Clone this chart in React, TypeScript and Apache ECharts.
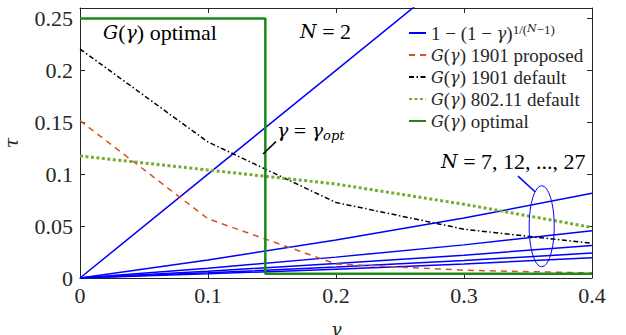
import React, { useEffect, useRef } from "react";
import * as echarts from "echarts";

// gamma sample points (x)
const gammaGrid = [0, 0.1, 0.2, 0.3, 0.4];
// 1 - (1 - gamma)^(1/(N-1))
const tauN2 = [0, 0.1, 0.2, 0.3, 0.4];
const tauN7 = [0, 0.0174, 0.0365, 0.0577, 0.0816];
const tauN12 = [0, 0.0095, 0.0201, 0.0319, 0.0454];
const tauN17 = [0, 0.0066, 0.0139, 0.022, 0.0314];
const tauN22 = [0, 0.005, 0.0106, 0.0168, 0.024];
const tauN27 = [0, 0.004, 0.0085, 0.0136, 0.0195];
// G(gamma) curves
const proposed1901 = [0.1515, 0.057, 0.0135, 0.0075, 0.0048];
const default1901 = [0.2205, 0.131, 0.0727, 0.047, 0.0335];
const default80211 = [0.1175, 0.104, 0.0905, 0.071, 0.0487];
// G(gamma) optimal step
const gammaOpt = 0.1448;
const optimalHigh = 0.25;
const optimalLow = 0.004;
const gammaMax = 0.4;
// annotation anchors (data coords)
const optArrowFrom = [0.1531, 0.1313];
const optArrowTo = [0.143, 0.1194];
const nArrowFrom = [0.3422, 0.0981];
const nArrowTo = [0.3555, 0.083];
const ellipseCenter = [0.3607, 0.0498];
const ellipseRadii = [0.0098, 0.039];

const SERIF = "Liberation Serif";
const ITALIC = "DejaVu Serif";
const AX = "#262626";
const CLEAR = "rgba(0,0,0,0)";

const LEG_BLUE = "1 − (1 − γ)^{1/(N−1)}";
const LEG_P = "G(γ) 1901 proposed";
const LEG_D = "G(γ) 1901 default";
const LEG_W = "G(γ) 802.11 default";
const LEG_O = "G(γ) optimal";

const legendRich: Record<string, string> = {
  [LEG_BLUE]: "{n|1 − (1 − }{i|γ}{n|)}{sup|1/(}{supi|N}{sup|−1)}",
  [LEG_P]: "{i|G}{n|(}{i|γ}{n|) 1901 proposed}",
  [LEG_D]: "{i|G}{n|(}{i|γ}{n|) 1901 default}",
  [LEG_W]: "{i|G}{n|(}{i|γ}{n|) 802.11 default}",
  [LEG_O]: "{i|G}{n|(}{i|γ}{n|) optimal}",
};

const pairs = (ys: number[]) => gammaGrid.map((g, i) => [g, ys[i]]);

export default function App() {
  const ref = useRef<HTMLDivElement>(null);
  useEffect(() => {
    document.body.style.margin = "0";
    const chart = echarts.init(ref.current!, null, { renderer: "svg" });
    const blue = (data: number[]) => ({
      type: "line",
      name: LEG_BLUE,
      data: pairs(data),
      symbol: "none",
      lineStyle: { color: "#0000ff", width: 1.5 },
      itemStyle: { color: CLEAR },
      z: 2,
    });
    const textRich = (size: number) => ({
      n: { fontFamily: SERIF, fontSize: size, color: AX, lineHeight: size + 2 },
      i: { fontFamily: ITALIC, fontSize: size - 3, fontStyle: "italic", color: AX, lineHeight: size + 2 },
      sub: { fontFamily: ITALIC, fontSize: Math.round(size * 0.6), fontStyle: "italic", color: AX, lineHeight: Math.round(size * 0.6), verticalAlign: "bottom" },
    });
    const option: any = {
      animation: false,
      grid: { left: 80, right: 34, top: 8, bottom: 57, show: false, containLabel: false, outerBoundsMode: "none" },
      xAxis: [
        {
          type: "value", min: 0, max: gammaMax, interval: 0.1,
          name: "γ", nameLocation: "middle", nameGap: 42,
          nameTextStyle: { fontFamily: ITALIC, fontSize: 18, fontStyle: "italic", color: AX, lineHeight: 18 },
          axisLine: { lineStyle: { color: AX, width: 1 } },
          axisTick: { inside: true, length: 5, lineStyle: { color: AX } },
          axisLabel: { fontFamily: SERIF, fontSize: 22, color: AX, margin: 6 },
          splitLine: { show: false },
        },
        {
          type: "value", min: 0, max: gammaMax, interval: 0.1, position: "top",
          axisLine: { onZero: false, lineStyle: { color: AX, width: 1 } },
          axisTick: { inside: true, length: 5, lineStyle: { color: AX } },
          axisLabel: { show: false }, splitLine: { show: false },
        },
      ],
      yAxis: [
        {
          type: "value", min: 0, max: 0.26, interval: 0.05,
          name: "τ", nameLocation: "middle", nameGap: 60, nameRotate: 90,
          nameTextStyle: { fontFamily: ITALIC, fontSize: 19, fontStyle: "italic", color: AX },
          axisLine: { show: true, lineStyle: { color: AX, width: 1 } },
          axisTick: { show: true, inside: true, length: 5, lineStyle: { color: AX } },
          axisLabel: { fontFamily: SERIF, fontSize: 22, color: AX, margin: 7, showMaxLabel: false },
          splitLine: { show: false },
        },
        {
          type: "value", min: 0, max: 0.26, interval: 0.05, position: "right",
          axisLine: { show: true, onZero: false, lineStyle: { color: AX, width: 1 } },
          axisTick: { show: true, inside: true, length: 5, lineStyle: { color: AX } },
          axisLabel: { show: false }, splitLine: { show: false },
        },
      ],
      legend: {
        data: [LEG_BLUE, LEG_P, LEG_D, LEG_W, LEG_O],
        orient: "vertical",
        left: 403,
        top: 18,
        itemWidth: 17,
        itemHeight: 10,
        itemGap: 3,
        selectedMode: false,
        itemStyle: { color: CLEAR, borderWidth: 0, opacity: 0 },
        formatter: (name: string) => legendRich[name] || name,
        textStyle: {
          fontFamily: SERIF, fontSize: 19, color: AX,
          rich: {
            n: { fontFamily: SERIF, fontSize: 19, color: AX, lineHeight: 20 },
            i: { fontFamily: ITALIC, fontSize: 16, fontStyle: "italic", color: AX, lineHeight: 20 },
            sup: { fontFamily: SERIF, fontSize: 13, color: AX, lineHeight: 12, verticalAlign: "top" },
            supi: { fontFamily: ITALIC, fontSize: 11, fontStyle: "italic", color: AX, lineHeight: 12, verticalAlign: "top" },
          },
        },
      },
      series: [
        blue(tauN2), blue(tauN7), blue(tauN12), blue(tauN17), blue(tauN22), blue(tauN27),
        {
          type: "line", name: LEG_P, data: pairs(proposed1901), symbol: "none",
          lineStyle: { color: "#d95319", width: 1.5, type: [6, 5] },
          itemStyle: { color: CLEAR }, z: 3,
        },
        {
          type: "line", name: LEG_D, data: pairs(default1901), symbol: "none",
          lineStyle: { color: "#000000", width: 1.5, type: [5, 2.5, 1.5, 2.5] },
          itemStyle: { color: CLEAR }, z: 3,
        },
        {
          type: "line", name: LEG_W, data: pairs(default80211), symbol: "none",
          lineStyle: { color: "#77ac30", width: 3, type: [3, 2.5] },
          itemStyle: { color: CLEAR }, z: 3,
        },
        {
          type: "line", name: LEG_O, symbol: "none",
          data: [[0, optimalHigh], [gammaOpt, optimalHigh], [gammaOpt, optimalLow], [gammaMax, optimalLow]],
          lineStyle: { color: "#178a17", width: 2.5 },
          itemStyle: { color: CLEAR }, z: 4,
        },
        {
          type: "line", name: "annotations", data: [], symbol: "none",
          markLine: {
            silent: true, animation: false,
            symbol: ["none", "arrow"], symbolSize: [0, 10],
            label: { show: false },
            emphasis: { disabled: true },
            data: [
              [
                { coord: optArrowFrom, lineStyle: { color: "#000", width: 1.5, type: "solid" }, itemStyle: { color: "#000" } },
                { coord: optArrowTo },
              ],
              [
                { coord: nArrowFrom, lineStyle: { color: "#0000ff", width: 1.5, type: "solid" }, itemStyle: { color: "#0000ff" } },
                { coord: nArrowTo },
              ],
            ],
          },
        },
      ],
    };
    chart.setOption(option);
    const c = chart.convertToPixel({ gridIndex: 0 }, ellipseCenter) as number[];
    const e = chart.convertToPixel({ gridIndex: 0 }, [ellipseCenter[0] + ellipseRadii[0], ellipseCenter[1] + ellipseRadii[1]]) as number[];
    chart.setOption({
      graphic: [
        {
          type: "ellipse", shape: { cx: c[0], cy: c[1], rx: Math.abs(e[0] - c[0]), ry: Math.abs(e[1] - c[1]) },
          style: { fill: "none", stroke: "#0000ff", lineWidth: 1 }, z: 10, silent: true,
        },
        {
          type: "text", left: 103, top: 21, z: 10, silent: true,
          style: { text: "{i|G}{n|(}{i|γ}{n|) optimal}", rich: textRich(22) },
        },
        {
          type: "text", left: 300, top: 20, z: 10, silent: true,
          style: { text: "{i|N}{n| = 2}", rich: textRich(22) },
        },
        {
          type: "text", left: 277, top: 119, z: 10, silent: true,
          style: { text: "{i|γ}{n| = }{i|γ}{sub|opt}", rich: textRich(22) },
        },
        {
          type: "text", left: 441, top: 150, z: 10, silent: true,
          style: { text: "{i|N}{n| = 7, 12, ..., 27}", rich: textRich(22) },
        },
      ],
    });
    return () => chart.dispose();
  }, []);
  return <div ref={ref} style={{ width: 626, height: 335 }} />;
}
